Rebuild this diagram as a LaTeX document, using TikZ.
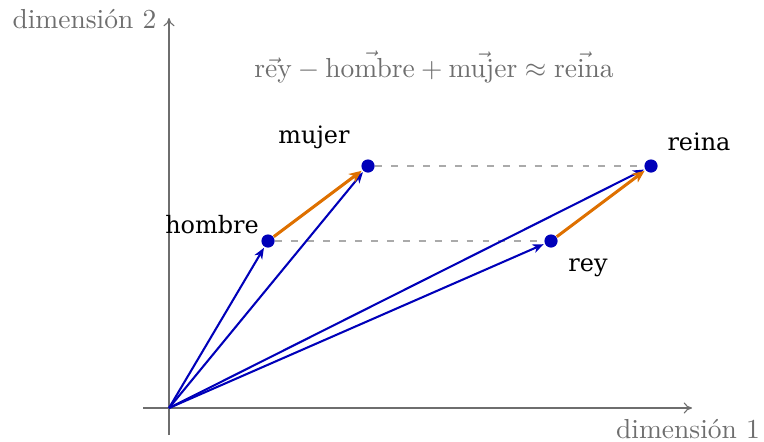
\documentclass[tikz,border=0pt]{standalone}
\usepackage{fontspec}
\usepackage{amsmath}
\newfontfamily\lblfont{DejaVu Serif}
\usetikzlibrary{arrows.meta}
\definecolor{vblue}{RGB}{0,0,185}
\definecolor{vorange}{RGB}{222,112,0}
\definecolor{axgray}{RGB}{110,110,110}
\definecolor{dashgray}{RGB}{170,170,170}
\begin{document}
\begin{tikzpicture}[x=0.3636pt,y=-0.3636pt,
  axis/.style={axgray,line width=0.4pt,-{To[length=3pt,width=4pt]}},
  axlabel/.style={text=axgray,font=\fontsize{10}{12}\selectfont},
  dot/.style={circle,fill=vblue,inner sep=0pt,minimum size=4.8pt},
  word/.style={font=\lblfont\fontsize{8.7}{10}\selectfont,text=black},
  vec/.style={vblue,line width=0.75pt,-{Stealth[length=4pt,width=3.2pt,inset=1.2pt]},shorten >=0.3pt},
  diff/.style={vorange,line width=1.1pt,-{Stealth[length=4.5pt,width=3.8pt,inset=1.3pt]},shorten >=0.3pt,shorten <=0pt},
  guide/.style={dashgray,line width=0.4pt,dash pattern=on 2.5pt off 3.3pt}]
\useasboundingbox (0,0) rectangle (764,441);
\coordinate (xs) at (143,408);
\coordinate (xe) at (692,408);
\coordinate (ys) at (169,435);
\coordinate (ye) at (169,18);
\coordinate (O) at (169,408);
\draw[axis] (xs) -- (xe);
\draw[axis] (ys) -- (ye);
\node[axlabel,anchor=east] (ylab) at (166,19) {dimensión 2};
\node[axlabel] (xlab) at (688,429) {dimensión 1};
\node[text=axgray,font=\fontsize{10}{12}\selectfont] (eq) at (434,67)
  {$\vec{\text{rey}}-\vec{\text{hombre}}+\vec{\text{mujer}}\approx\vec{\text{reina}}$};
\node[dot] (hombre) at (268,241) {};
\node[dot] (mujer) at (368,166) {};
\node[dot] (rey) at (551,241) {};
\node[dot] (reina) at (651,166) {};
\draw[guide] (hombre) -- (rey);
\draw[guide] (mujer) -- (reina);
\draw[vec] (O) -- (hombre);
\draw[vec] (O) -- (mujer);
\draw[vec] (O) -- (rey);
\draw[vec] (O) -- (reina);
\draw[diff] (hombre) -- (mujer);
\draw[diff] (rey) -- (reina);
\node[word] (lh) at (212,225) {hombre};
\node[word] (lm) at (314,137) {mujer};
\node[word] (lr) at (588,268) {rey};
\node[word] (lq) at (699,142) {reina};
\end{tikzpicture}
\end{document}
